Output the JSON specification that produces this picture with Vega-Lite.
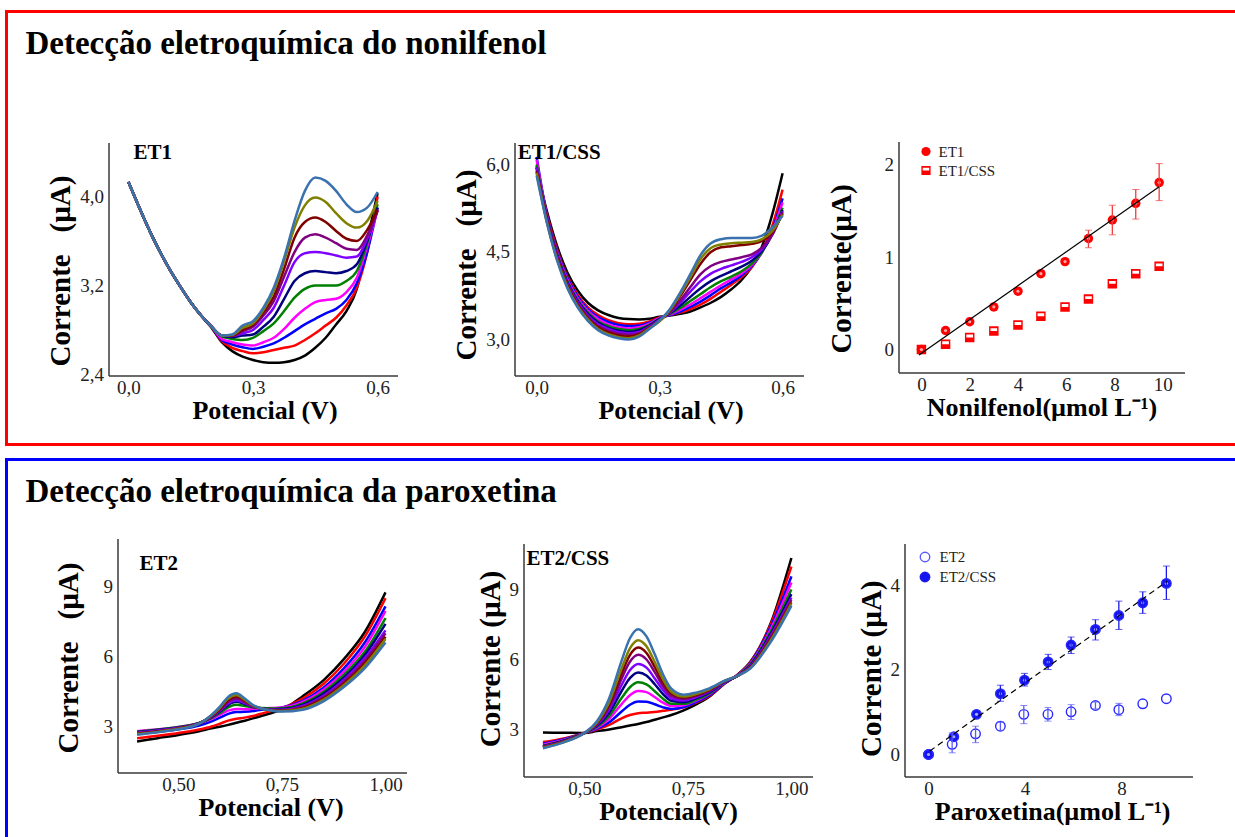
{
  "$schema": "https://vega.github.io/schema/vega-lite/v6.json",
  "background": "white",
  "padding": {"left": 4.5, "top": 9.5, "right": 0, "bottom": 0},
  "autosize": {"type": "pad"},
  "config": {
    "view": {"stroke": null},
    "font": "Liberation Serif",
    "axis": {"ticks": false, "grid": false, "domainColor": "#3a3a3a", "domainWidth": 1.5, "labelFont": "Liberation Serif", "labelFontSize": 19, "labelColor": "#222222", "labelPadding": 5, "labelFlush": false, "labelOverlap": false, "titleFont": "Liberation Serif", "titleFontWeight": "bold", "titleColor": "#000000"},
    "axisX": {"titleFontSize": 26, "titlePadding": 0, "labelPadding": 3},
    "axisY": {"titleFontSize": 29, "titlePadding": 4},
    "title": {"anchor": "start", "frame": "group", "offset": 0, "baseline": "alphabetic", "font": "Liberation Serif", "fontWeight": "bold", "color": "#000000"},
    "text": {"font": "Liberation Serif", "fontWeight": "bold", "fontSize": 21, "align": "left", "baseline": "alphabetic", "color": "#000000"}
  },
  "resolve": {"scale": {"shape": "independent", "fill": "independent", "color": "independent"}, "legend": {"shape": "independent", "fill": "independent"}},
  "datasets": {
    "l1": [
      {"k":0,"v":0,"i":4.13},{"k":0,"v":0.025,"i":3.91},{"k":0,"v":0.05,"i":3.7},{"k":0,"v":0.075,"i":3.51},{"k":0,"v":0.1,"i":3.34},{"k":0,"v":0.125,"i":3.19},{"k":0,"v":0.15,"i":3.05},{"k":0,"v":0.175,"i":2.93},{"k":0,"v":0.2,"i":2.82},{"k":0,"v":0.225,"i":2.69},{"k":0,"v":0.25,"i":2.61},{"k":0,"v":0.275,"i":2.56},{"k":0,"v":0.3,"i":2.53},{"k":0,"v":0.325,"i":2.51},{"k":0,"v":0.35,"i":2.505},{"k":0,"v":0.375,"i":2.51},{"k":0,"v":0.4,"i":2.53},{"k":0,"v":0.425,"i":2.57},{"k":0,"v":0.45,"i":2.64},{"k":0,"v":0.475,"i":2.73},{"k":0,"v":0.5,"i":2.85},{"k":0,"v":0.525,"i":2.97},{"k":0,"v":0.55,"i":3.17},{"k":0,"v":0.575,"i":3.6},{"k":0,"v":0.6,"i":4.03},
      {"k":1,"v":0,"i":4.13},{"k":1,"v":0.025,"i":3.91},{"k":1,"v":0.05,"i":3.7},{"k":1,"v":0.075,"i":3.51},{"k":1,"v":0.1,"i":3.34},{"k":1,"v":0.125,"i":3.19},{"k":1,"v":0.15,"i":3.05},{"k":1,"v":0.175,"i":2.93},{"k":1,"v":0.2,"i":2.83},{"k":1,"v":0.225,"i":2.7},{"k":1,"v":0.25,"i":2.64},{"k":1,"v":0.275,"i":2.61},{"k":1,"v":0.3,"i":2.59},{"k":1,"v":0.325,"i":2.6},{"k":1,"v":0.35,"i":2.62},{"k":1,"v":0.375,"i":2.64},{"k":1,"v":0.4,"i":2.66},{"k":1,"v":0.425,"i":2.71},{"k":1,"v":0.45,"i":2.77},{"k":1,"v":0.475,"i":2.84},{"k":1,"v":0.5,"i":2.91},{"k":1,"v":0.525,"i":3.02},{"k":1,"v":0.55,"i":3.18},{"k":1,"v":0.575,"i":3.5},{"k":1,"v":0.6,"i":4.0},
      {"k":2,"v":0,"i":4.13},{"k":2,"v":0.025,"i":3.91},{"k":2,"v":0.05,"i":3.7},{"k":2,"v":0.075,"i":3.51},{"k":2,"v":0.1,"i":3.34},{"k":2,"v":0.125,"i":3.19},{"k":2,"v":0.15,"i":3.05},{"k":2,"v":0.175,"i":2.93},{"k":2,"v":0.2,"i":2.83},{"k":2,"v":0.225,"i":2.71},{"k":2,"v":0.25,"i":2.67},{"k":2,"v":0.275,"i":2.645},{"k":2,"v":0.3,"i":2.63},{"k":2,"v":0.325,"i":2.65},{"k":2,"v":0.35,"i":2.68},{"k":2,"v":0.375,"i":2.73},{"k":2,"v":0.4,"i":2.79},{"k":2,"v":0.425,"i":2.85},{"k":2,"v":0.45,"i":2.9},{"k":2,"v":0.475,"i":2.95},{"k":2,"v":0.5,"i":2.99},{"k":2,"v":0.525,"i":3.07},{"k":2,"v":0.55,"i":3.22},{"k":2,"v":0.575,"i":3.5},{"k":2,"v":0.6,"i":3.9},
      {"k":3,"v":0,"i":4.13},{"k":3,"v":0.025,"i":3.91},{"k":3,"v":0.05,"i":3.7},{"k":3,"v":0.075,"i":3.51},{"k":3,"v":0.1,"i":3.34},{"k":3,"v":0.125,"i":3.19},{"k":3,"v":0.15,"i":3.05},{"k":3,"v":0.175,"i":2.93},{"k":3,"v":0.2,"i":2.83},{"k":3,"v":0.225,"i":2.72},{"k":3,"v":0.25,"i":2.69},{"k":3,"v":0.275,"i":2.67},{"k":3,"v":0.3,"i":2.66},{"k":3,"v":0.325,"i":2.69},{"k":3,"v":0.35,"i":2.73},{"k":3,"v":0.375,"i":2.81},{"k":3,"v":0.4,"i":2.91},{"k":3,"v":0.425,"i":2.99},{"k":3,"v":0.45,"i":3.05},{"k":3,"v":0.475,"i":3.07},{"k":3,"v":0.5,"i":3.08},{"k":3,"v":0.525,"i":3.14},{"k":3,"v":0.55,"i":3.27},{"k":3,"v":0.575,"i":3.55},{"k":3,"v":0.6,"i":3.88},
      {"k":4,"v":0,"i":4.13},{"k":4,"v":0.025,"i":3.91},{"k":4,"v":0.05,"i":3.7},{"k":4,"v":0.075,"i":3.51},{"k":4,"v":0.1,"i":3.34},{"k":4,"v":0.125,"i":3.19},{"k":4,"v":0.15,"i":3.05},{"k":4,"v":0.175,"i":2.93},{"k":4,"v":0.2,"i":2.83},{"k":4,"v":0.225,"i":2.74},{"k":4,"v":0.25,"i":2.72},{"k":4,"v":0.275,"i":2.71},{"k":4,"v":0.3,"i":2.73},{"k":4,"v":0.325,"i":2.79},{"k":4,"v":0.35,"i":2.86},{"k":4,"v":0.375,"i":2.97},{"k":4,"v":0.4,"i":3.09},{"k":4,"v":0.425,"i":3.17},{"k":4,"v":0.45,"i":3.2},{"k":4,"v":0.475,"i":3.2},{"k":4,"v":0.5,"i":3.2},{"k":4,"v":0.525,"i":3.24},{"k":4,"v":0.55,"i":3.33},{"k":4,"v":0.575,"i":3.58},{"k":4,"v":0.6,"i":3.93},
      {"k":5,"v":0,"i":4.13},{"k":5,"v":0.025,"i":3.91},{"k":5,"v":0.05,"i":3.7},{"k":5,"v":0.075,"i":3.51},{"k":5,"v":0.1,"i":3.34},{"k":5,"v":0.125,"i":3.19},{"k":5,"v":0.15,"i":3.05},{"k":5,"v":0.175,"i":2.93},{"k":5,"v":0.2,"i":2.83},{"k":5,"v":0.225,"i":2.75},{"k":5,"v":0.25,"i":2.735},{"k":5,"v":0.275,"i":2.75},{"k":5,"v":0.3,"i":2.76},{"k":5,"v":0.325,"i":2.83},{"k":5,"v":0.35,"i":2.92},{"k":5,"v":0.375,"i":3.08},{"k":5,"v":0.4,"i":3.24},{"k":5,"v":0.425,"i":3.31},{"k":5,"v":0.45,"i":3.33},{"k":5,"v":0.475,"i":3.32},{"k":5,"v":0.5,"i":3.31},{"k":5,"v":0.525,"i":3.33},{"k":5,"v":0.55,"i":3.39},{"k":5,"v":0.575,"i":3.6},{"k":5,"v":0.6,"i":3.9},
      {"k":6,"v":0,"i":4.13},{"k":6,"v":0.025,"i":3.91},{"k":6,"v":0.05,"i":3.7},{"k":6,"v":0.075,"i":3.51},{"k":6,"v":0.1,"i":3.34},{"k":6,"v":0.125,"i":3.19},{"k":6,"v":0.15,"i":3.05},{"k":6,"v":0.175,"i":2.93},{"k":6,"v":0.2,"i":2.83},{"k":6,"v":0.225,"i":2.75},{"k":6,"v":0.25,"i":2.745},{"k":6,"v":0.275,"i":2.77},{"k":6,"v":0.3,"i":2.8},{"k":6,"v":0.325,"i":2.89},{"k":6,"v":0.35,"i":3.0},{"k":6,"v":0.375,"i":3.2},{"k":6,"v":0.4,"i":3.41},{"k":6,"v":0.425,"i":3.49},{"k":6,"v":0.45,"i":3.5},{"k":6,"v":0.475,"i":3.49},{"k":6,"v":0.5,"i":3.47},{"k":6,"v":0.525,"i":3.45},{"k":6,"v":0.55,"i":3.46},{"k":6,"v":0.575,"i":3.62},{"k":6,"v":0.6,"i":3.88},
      {"k":7,"v":0,"i":4.13},{"k":7,"v":0.025,"i":3.91},{"k":7,"v":0.05,"i":3.7},{"k":7,"v":0.075,"i":3.51},{"k":7,"v":0.1,"i":3.34},{"k":7,"v":0.125,"i":3.19},{"k":7,"v":0.15,"i":3.05},{"k":7,"v":0.175,"i":2.93},{"k":7,"v":0.2,"i":2.83},{"k":7,"v":0.225,"i":2.75},{"k":7,"v":0.25,"i":2.75},{"k":7,"v":0.275,"i":2.79},{"k":7,"v":0.3,"i":2.83},{"k":7,"v":0.325,"i":2.93},{"k":7,"v":0.35,"i":3.06},{"k":7,"v":0.375,"i":3.28},{"k":7,"v":0.4,"i":3.5},{"k":7,"v":0.425,"i":3.63},{"k":7,"v":0.45,"i":3.66},{"k":7,"v":0.475,"i":3.63},{"k":7,"v":0.5,"i":3.58},{"k":7,"v":0.525,"i":3.53},{"k":7,"v":0.55,"i":3.52},{"k":7,"v":0.575,"i":3.65},{"k":7,"v":0.6,"i":3.87},
      {"k":8,"v":0,"i":4.13},{"k":8,"v":0.025,"i":3.91},{"k":8,"v":0.05,"i":3.7},{"k":8,"v":0.075,"i":3.51},{"k":8,"v":0.1,"i":3.34},{"k":8,"v":0.125,"i":3.19},{"k":8,"v":0.15,"i":3.05},{"k":8,"v":0.175,"i":2.93},{"k":8,"v":0.2,"i":2.83},{"k":8,"v":0.225,"i":2.75},{"k":8,"v":0.25,"i":2.75},{"k":8,"v":0.275,"i":2.8},{"k":8,"v":0.3,"i":2.85},{"k":8,"v":0.325,"i":2.96},{"k":8,"v":0.35,"i":3.1},{"k":8,"v":0.375,"i":3.35},{"k":8,"v":0.4,"i":3.63},{"k":8,"v":0.425,"i":3.77},{"k":8,"v":0.45,"i":3.81},{"k":8,"v":0.475,"i":3.77},{"k":8,"v":0.5,"i":3.69},{"k":8,"v":0.525,"i":3.62},{"k":8,"v":0.55,"i":3.6},{"k":8,"v":0.575,"i":3.7},{"k":8,"v":0.6,"i":3.88},
      {"k":9,"v":0,"i":4.13},{"k":9,"v":0.025,"i":3.91},{"k":9,"v":0.05,"i":3.7},{"k":9,"v":0.075,"i":3.51},{"k":9,"v":0.1,"i":3.34},{"k":9,"v":0.125,"i":3.19},{"k":9,"v":0.15,"i":3.05},{"k":9,"v":0.175,"i":2.93},{"k":9,"v":0.2,"i":2.83},{"k":9,"v":0.225,"i":2.75},{"k":9,"v":0.25,"i":2.755},{"k":9,"v":0.275,"i":2.82},{"k":9,"v":0.3,"i":2.86},{"k":9,"v":0.325,"i":2.98},{"k":9,"v":0.35,"i":3.15},{"k":9,"v":0.375,"i":3.42},{"k":9,"v":0.4,"i":3.72},{"k":9,"v":0.425,"i":3.92},{"k":9,"v":0.45,"i":3.99},{"k":9,"v":0.475,"i":3.95},{"k":9,"v":0.5,"i":3.85},{"k":9,"v":0.525,"i":3.76},{"k":9,"v":0.55,"i":3.72},{"k":9,"v":0.575,"i":3.78},{"k":9,"v":0.6,"i":3.96},
      {"k":10,"v":0,"i":4.13},{"k":10,"v":0.025,"i":3.91},{"k":10,"v":0.05,"i":3.7},{"k":10,"v":0.075,"i":3.51},{"k":10,"v":0.1,"i":3.34},{"k":10,"v":0.125,"i":3.19},{"k":10,"v":0.15,"i":3.05},{"k":10,"v":0.175,"i":2.93},{"k":10,"v":0.2,"i":2.83},{"k":10,"v":0.225,"i":2.75},{"k":10,"v":0.25,"i":2.76},{"k":10,"v":0.275,"i":2.84},{"k":10,"v":0.3,"i":2.88},{"k":10,"v":0.325,"i":3.0},{"k":10,"v":0.35,"i":3.18},{"k":10,"v":0.375,"i":3.45},{"k":10,"v":0.4,"i":3.78},{"k":10,"v":0.425,"i":4.05},{"k":10,"v":0.45,"i":4.17},{"k":10,"v":0.475,"i":4.14},{"k":10,"v":0.5,"i":4.05},{"k":10,"v":0.525,"i":3.93},{"k":10,"v":0.55,"i":3.86},{"k":10,"v":0.575,"i":3.9},{"k":10,"v":0.6,"i":4.04}
    ],
    "l2": [
      {"k":0,"v":0,"i":5.95},{"k":0,"v":0.025,"i":5.2},{"k":0,"v":0.05,"i":4.6},{"k":0,"v":0.075,"i":4.15},{"k":0,"v":0.1,"i":3.84},{"k":0,"v":0.125,"i":3.63},{"k":0,"v":0.15,"i":3.5},{"k":0,"v":0.175,"i":3.42},{"k":0,"v":0.2,"i":3.37},{"k":0,"v":0.225,"i":3.35},{"k":0,"v":0.25,"i":3.345},{"k":0,"v":0.275,"i":3.355},{"k":0,"v":0.3,"i":3.39},{"k":0,"v":0.325,"i":3.41},{"k":0,"v":0.35,"i":3.44},{"k":0,"v":0.375,"i":3.48},{"k":0,"v":0.4,"i":3.55},{"k":0,"v":0.425,"i":3.63},{"k":0,"v":0.45,"i":3.73},{"k":0,"v":0.475,"i":3.86},{"k":0,"v":0.5,"i":4.02},{"k":0,"v":0.525,"i":4.25},{"k":0,"v":0.55,"i":4.6},{"k":0,"v":0.575,"i":5.15},{"k":0,"v":0.6,"i":5.85},
      {"k":1,"v":0,"i":5.98},{"k":1,"v":0.025,"i":5.15},{"k":1,"v":0.05,"i":4.54},{"k":1,"v":0.075,"i":4.08},{"k":1,"v":0.1,"i":3.77},{"k":1,"v":0.125,"i":3.55},{"k":1,"v":0.15,"i":3.42},{"k":1,"v":0.175,"i":3.33},{"k":1,"v":0.2,"i":3.28},{"k":1,"v":0.225,"i":3.26},{"k":1,"v":0.25,"i":3.27},{"k":1,"v":0.275,"i":3.31},{"k":1,"v":0.3,"i":3.38},{"k":1,"v":0.325,"i":3.42},{"k":1,"v":0.35,"i":3.46},{"k":1,"v":0.375,"i":3.52},{"k":1,"v":0.4,"i":3.6},{"k":1,"v":0.425,"i":3.7},{"k":1,"v":0.45,"i":3.82},{"k":1,"v":0.475,"i":3.94},{"k":1,"v":0.5,"i":4.07},{"k":1,"v":0.525,"i":4.24},{"k":1,"v":0.55,"i":4.52},{"k":1,"v":0.575,"i":4.95},{"k":1,"v":0.6,"i":5.57},
      {"k":2,"v":0,"i":6.13},{"k":2,"v":0.025,"i":5.13},{"k":2,"v":0.05,"i":4.51},{"k":2,"v":0.075,"i":4.06},{"k":2,"v":0.1,"i":3.74},{"k":2,"v":0.125,"i":3.52},{"k":2,"v":0.15,"i":3.38},{"k":2,"v":0.175,"i":3.3},{"k":2,"v":0.2,"i":3.25},{"k":2,"v":0.225,"i":3.23},{"k":2,"v":0.25,"i":3.24},{"k":2,"v":0.275,"i":3.29},{"k":2,"v":0.3,"i":3.37},{"k":2,"v":0.325,"i":3.42},{"k":2,"v":0.35,"i":3.48},{"k":2,"v":0.375,"i":3.56},{"k":2,"v":0.4,"i":3.65},{"k":2,"v":0.425,"i":3.76},{"k":2,"v":0.45,"i":3.88},{"k":2,"v":0.475,"i":3.98},{"k":2,"v":0.5,"i":4.1},{"k":2,"v":0.525,"i":4.26},{"k":2,"v":0.55,"i":4.5},{"k":2,"v":0.575,"i":4.88},{"k":2,"v":0.6,"i":5.42},
      {"k":3,"v":0,"i":6.08},{"k":3,"v":0.025,"i":5.11},{"k":3,"v":0.05,"i":4.49},{"k":3,"v":0.075,"i":4.03},{"k":3,"v":0.1,"i":3.71},{"k":3,"v":0.125,"i":3.49},{"k":3,"v":0.15,"i":3.35},{"k":3,"v":0.175,"i":3.26},{"k":3,"v":0.2,"i":3.21},{"k":3,"v":0.225,"i":3.19},{"k":3,"v":0.25,"i":3.21},{"k":3,"v":0.275,"i":3.27},{"k":3,"v":0.3,"i":3.37},{"k":3,"v":0.325,"i":3.43},{"k":3,"v":0.35,"i":3.51},{"k":3,"v":0.375,"i":3.6},{"k":3,"v":0.4,"i":3.71},{"k":3,"v":0.425,"i":3.82},{"k":3,"v":0.45,"i":3.93},{"k":3,"v":0.475,"i":4.03},{"k":3,"v":0.5,"i":4.13},{"k":3,"v":0.525,"i":4.28},{"k":3,"v":0.55,"i":4.5},{"k":3,"v":0.575,"i":4.85},{"k":3,"v":0.6,"i":5.35},
      {"k":4,"v":0,"i":6.0},{"k":4,"v":0.025,"i":5.09},{"k":4,"v":0.05,"i":4.46},{"k":4,"v":0.075,"i":4.0},{"k":4,"v":0.1,"i":3.68},{"k":4,"v":0.125,"i":3.46},{"k":4,"v":0.15,"i":3.31},{"k":4,"v":0.175,"i":3.23},{"k":4,"v":0.2,"i":3.18},{"k":4,"v":0.225,"i":3.16},{"k":4,"v":0.25,"i":3.18},{"k":4,"v":0.275,"i":3.25},{"k":4,"v":0.3,"i":3.36},{"k":4,"v":0.325,"i":3.44},{"k":4,"v":0.35,"i":3.54},{"k":4,"v":0.375,"i":3.66},{"k":4,"v":0.4,"i":3.78},{"k":4,"v":0.425,"i":3.9},{"k":4,"v":0.45,"i":4.0},{"k":4,"v":0.475,"i":4.08},{"k":4,"v":0.5,"i":4.17},{"k":4,"v":0.525,"i":4.3},{"k":4,"v":0.55,"i":4.5},{"k":4,"v":0.575,"i":4.82},{"k":4,"v":0.6,"i":5.26},
      {"k":5,"v":0,"i":5.95},{"k":5,"v":0.025,"i":5.08},{"k":5,"v":0.05,"i":4.45},{"k":5,"v":0.075,"i":3.98},{"k":5,"v":0.1,"i":3.66},{"k":5,"v":0.125,"i":3.44},{"k":5,"v":0.15,"i":3.29},{"k":5,"v":0.175,"i":3.2},{"k":5,"v":0.2,"i":3.15},{"k":5,"v":0.225,"i":3.13},{"k":5,"v":0.25,"i":3.16},{"k":5,"v":0.275,"i":3.24},{"k":5,"v":0.3,"i":3.35},{"k":5,"v":0.325,"i":3.45},{"k":5,"v":0.35,"i":3.58},{"k":5,"v":0.375,"i":3.73},{"k":5,"v":0.4,"i":3.88},{"k":5,"v":0.425,"i":4.0},{"k":5,"v":0.45,"i":4.09},{"k":5,"v":0.475,"i":4.17},{"k":5,"v":0.5,"i":4.25},{"k":5,"v":0.525,"i":4.35},{"k":5,"v":0.55,"i":4.52},{"k":5,"v":0.575,"i":4.8},{"k":5,"v":0.6,"i":5.22},
      {"k":6,"v":0,"i":5.95},{"k":6,"v":0.025,"i":5.06},{"k":6,"v":0.05,"i":4.43},{"k":6,"v":0.075,"i":3.96},{"k":6,"v":0.1,"i":3.64},{"k":6,"v":0.125,"i":3.41},{"k":6,"v":0.15,"i":3.26},{"k":6,"v":0.175,"i":3.18},{"k":6,"v":0.2,"i":3.125},{"k":6,"v":0.225,"i":3.105},{"k":6,"v":0.25,"i":3.13},{"k":6,"v":0.275,"i":3.22},{"k":6,"v":0.3,"i":3.34},{"k":6,"v":0.325,"i":3.46},{"k":6,"v":0.35,"i":3.63},{"k":6,"v":0.375,"i":3.82},{"k":6,"v":0.4,"i":4.0},{"k":6,"v":0.425,"i":4.13},{"k":6,"v":0.45,"i":4.21},{"k":6,"v":0.475,"i":4.27},{"k":6,"v":0.5,"i":4.33},{"k":6,"v":0.525,"i":4.41},{"k":6,"v":0.55,"i":4.55},{"k":6,"v":0.575,"i":4.8},{"k":6,"v":0.6,"i":5.2},
      {"k":7,"v":0,"i":5.9},{"k":7,"v":0.025,"i":5.04},{"k":7,"v":0.05,"i":4.4},{"k":7,"v":0.075,"i":3.94},{"k":7,"v":0.1,"i":3.61},{"k":7,"v":0.125,"i":3.39},{"k":7,"v":0.15,"i":3.23},{"k":7,"v":0.175,"i":3.15},{"k":7,"v":0.2,"i":3.1},{"k":7,"v":0.225,"i":3.08},{"k":7,"v":0.25,"i":3.11},{"k":7,"v":0.275,"i":3.21},{"k":7,"v":0.3,"i":3.33},{"k":7,"v":0.325,"i":3.47},{"k":7,"v":0.35,"i":3.67},{"k":7,"v":0.375,"i":3.9},{"k":7,"v":0.4,"i":4.12},{"k":7,"v":0.425,"i":4.26},{"k":7,"v":0.45,"i":4.33},{"k":7,"v":0.475,"i":4.37},{"k":7,"v":0.5,"i":4.41},{"k":7,"v":0.525,"i":4.46},{"k":7,"v":0.55,"i":4.58},{"k":7,"v":0.575,"i":4.8},{"k":7,"v":0.6,"i":5.18},
      {"k":8,"v":0,"i":5.88},{"k":8,"v":0.025,"i":5.03},{"k":8,"v":0.05,"i":4.39},{"k":8,"v":0.075,"i":3.92},{"k":8,"v":0.1,"i":3.59},{"k":8,"v":0.125,"i":3.36},{"k":8,"v":0.15,"i":3.21},{"k":8,"v":0.175,"i":3.12},{"k":8,"v":0.2,"i":3.07},{"k":8,"v":0.225,"i":3.05},{"k":8,"v":0.25,"i":3.09},{"k":8,"v":0.275,"i":3.2},{"k":8,"v":0.3,"i":3.32},{"k":8,"v":0.325,"i":3.49},{"k":8,"v":0.35,"i":3.74},{"k":8,"v":0.375,"i":4.02},{"k":8,"v":0.4,"i":4.3},{"k":8,"v":0.425,"i":4.5},{"k":8,"v":0.45,"i":4.58},{"k":8,"v":0.475,"i":4.6},{"k":8,"v":0.5,"i":4.62},{"k":8,"v":0.525,"i":4.64},{"k":8,"v":0.55,"i":4.69},{"k":8,"v":0.575,"i":4.84},{"k":8,"v":0.6,"i":5.16},
      {"k":9,"v":0,"i":5.86},{"k":9,"v":0.025,"i":5.01},{"k":9,"v":0.05,"i":4.37},{"k":9,"v":0.075,"i":3.9},{"k":9,"v":0.1,"i":3.57},{"k":9,"v":0.125,"i":3.34},{"k":9,"v":0.15,"i":3.18},{"k":9,"v":0.175,"i":3.09},{"k":9,"v":0.2,"i":3.04},{"k":9,"v":0.225,"i":3.02},{"k":9,"v":0.25,"i":3.07},{"k":9,"v":0.275,"i":3.19},{"k":9,"v":0.3,"i":3.31},{"k":9,"v":0.325,"i":3.5},{"k":9,"v":0.35,"i":3.77},{"k":9,"v":0.375,"i":4.07},{"k":9,"v":0.4,"i":4.38},{"k":9,"v":0.425,"i":4.57},{"k":9,"v":0.45,"i":4.63},{"k":9,"v":0.475,"i":4.65},{"k":9,"v":0.5,"i":4.66},{"k":9,"v":0.525,"i":4.67},{"k":9,"v":0.55,"i":4.72},{"k":9,"v":0.575,"i":4.86},{"k":9,"v":0.6,"i":5.14},
      {"k":10,"v":0,"i":5.81},{"k":10,"v":0.025,"i":5.0},{"k":10,"v":0.05,"i":4.35},{"k":10,"v":0.075,"i":3.88},{"k":10,"v":0.1,"i":3.55},{"k":10,"v":0.125,"i":3.32},{"k":10,"v":0.15,"i":3.16},{"k":10,"v":0.175,"i":3.07},{"k":10,"v":0.2,"i":3.02},{"k":10,"v":0.225,"i":3.0},{"k":10,"v":0.25,"i":3.05},{"k":10,"v":0.275,"i":3.18},{"k":10,"v":0.3,"i":3.33},{"k":10,"v":0.325,"i":3.52},{"k":10,"v":0.35,"i":3.8},{"k":10,"v":0.375,"i":4.12},{"k":10,"v":0.4,"i":4.45},{"k":10,"v":0.425,"i":4.65},{"k":10,"v":0.45,"i":4.72},{"k":10,"v":0.475,"i":4.74},{"k":10,"v":0.5,"i":4.74},{"k":10,"v":0.525,"i":4.74},{"k":10,"v":0.55,"i":4.78},{"k":10,"v":0.575,"i":4.92},{"k":10,"v":0.6,"i":5.12}
    ],
    "l4": [
      {"k":0,"v":0.4,"i":2.36},{"k":0,"v":0.45,"i":2.5},{"k":0,"v":0.5,"i":2.64},{"k":0,"v":0.55,"i":2.8},{"k":0,"v":0.58,"i":2.92},{"k":0,"v":0.6,"i":2.99},{"k":0,"v":0.62,"i":3.07},{"k":0,"v":0.64,"i":3.16},{"k":0,"v":0.66,"i":3.25},{"k":0,"v":0.68,"i":3.35},{"k":0,"v":0.7,"i":3.45},{"k":0,"v":0.725,"i":3.58},{"k":0,"v":0.75,"i":3.72},{"k":0,"v":0.8,"i":4.3},{"k":0,"v":0.85,"i":4.98},{"k":0,"v":0.9,"i":5.9},{"k":0,"v":0.95,"i":7.05},{"k":0,"v":1.0,"i":8.75},
      {"k":1,"v":0.4,"i":2.5},{"k":1,"v":0.45,"i":2.6},{"k":1,"v":0.5,"i":2.72},{"k":1,"v":0.55,"i":2.87},{"k":1,"v":0.58,"i":3.0},{"k":1,"v":0.6,"i":3.12},{"k":1,"v":0.62,"i":3.25},{"k":1,"v":0.64,"i":3.33},{"k":1,"v":0.66,"i":3.38},{"k":1,"v":0.68,"i":3.45},{"k":1,"v":0.7,"i":3.55},{"k":1,"v":0.725,"i":3.67},{"k":1,"v":0.75,"i":3.8},{"k":1,"v":0.8,"i":4.2},{"k":1,"v":0.85,"i":4.82},{"k":1,"v":0.9,"i":5.7},{"k":1,"v":0.95,"i":6.85},{"k":1,"v":1.0,"i":8.5},
      {"k":2,"v":0.4,"i":2.7},{"k":2,"v":0.45,"i":2.78},{"k":2,"v":0.5,"i":2.88},{"k":2,"v":0.55,"i":3.04},{"k":2,"v":0.58,"i":3.22},{"k":2,"v":0.6,"i":3.38},{"k":2,"v":0.62,"i":3.54},{"k":2,"v":0.64,"i":3.62},{"k":2,"v":0.66,"i":3.63},{"k":2,"v":0.68,"i":3.66},{"k":2,"v":0.7,"i":3.72},{"k":2,"v":0.725,"i":3.77},{"k":2,"v":0.75,"i":3.82},{"k":2,"v":0.8,"i":4.1},{"k":2,"v":0.85,"i":4.66},{"k":2,"v":0.9,"i":5.5},{"k":2,"v":0.95,"i":6.6},{"k":2,"v":1.0,"i":8.15},
      {"k":3,"v":0.4,"i":2.8},{"k":3,"v":0.45,"i":2.88},{"k":3,"v":0.5,"i":2.98},{"k":3,"v":0.55,"i":3.14},{"k":3,"v":0.58,"i":3.33},{"k":3,"v":0.6,"i":3.5},{"k":3,"v":0.62,"i":3.68},{"k":3,"v":0.64,"i":3.75},{"k":3,"v":0.66,"i":3.74},{"k":3,"v":0.68,"i":3.76},{"k":3,"v":0.7,"i":3.78},{"k":3,"v":0.725,"i":3.79},{"k":3,"v":0.75,"i":3.81},{"k":3,"v":0.8,"i":4.05},{"k":3,"v":0.85,"i":4.57},{"k":3,"v":0.9,"i":5.35},{"k":3,"v":0.95,"i":6.4},{"k":3,"v":1.0,"i":7.95},
      {"k":4,"v":0.4,"i":2.78},{"k":4,"v":0.45,"i":2.87},{"k":4,"v":0.5,"i":2.98},{"k":4,"v":0.55,"i":3.15},{"k":4,"v":0.58,"i":3.37},{"k":4,"v":0.6,"i":3.58},{"k":4,"v":0.62,"i":3.82},{"k":4,"v":0.64,"i":3.93},{"k":4,"v":0.66,"i":3.88},{"k":4,"v":0.68,"i":3.82},{"k":4,"v":0.7,"i":3.79},{"k":4,"v":0.725,"i":3.77},{"k":4,"v":0.75,"i":3.78},{"k":4,"v":0.8,"i":3.99},{"k":4,"v":0.85,"i":4.48},{"k":4,"v":0.9,"i":5.22},{"k":4,"v":0.95,"i":6.2},{"k":4,"v":1.0,"i":7.65},
      {"k":5,"v":0.4,"i":2.76},{"k":5,"v":0.45,"i":2.85},{"k":5,"v":0.5,"i":2.96},{"k":5,"v":0.55,"i":3.14},{"k":5,"v":0.58,"i":3.4},{"k":5,"v":0.6,"i":3.64},{"k":5,"v":0.62,"i":3.93},{"k":5,"v":0.64,"i":4.06},{"k":5,"v":0.66,"i":3.96},{"k":5,"v":0.68,"i":3.85},{"k":5,"v":0.7,"i":3.78},{"k":5,"v":0.725,"i":3.74},{"k":5,"v":0.75,"i":3.75},{"k":5,"v":0.8,"i":3.93},{"k":5,"v":0.85,"i":4.4},{"k":5,"v":0.9,"i":5.1},{"k":5,"v":0.95,"i":6.06},{"k":5,"v":1.0,"i":7.4},
      {"k":6,"v":0.4,"i":2.74},{"k":6,"v":0.45,"i":2.83},{"k":6,"v":0.5,"i":2.95},{"k":6,"v":0.55,"i":3.14},{"k":6,"v":0.58,"i":3.42},{"k":6,"v":0.6,"i":3.68},{"k":6,"v":0.62,"i":3.99},{"k":6,"v":0.64,"i":4.13},{"k":6,"v":0.66,"i":4.0},{"k":6,"v":0.68,"i":3.86},{"k":6,"v":0.7,"i":3.77},{"k":6,"v":0.725,"i":3.72},{"k":6,"v":0.75,"i":3.72},{"k":6,"v":0.8,"i":3.88},{"k":6,"v":0.85,"i":4.32},{"k":6,"v":0.9,"i":5.01},{"k":6,"v":0.95,"i":5.93},{"k":6,"v":1.0,"i":7.12},
      {"k":7,"v":0.4,"i":2.72},{"k":7,"v":0.45,"i":2.81},{"k":7,"v":0.5,"i":2.93},{"k":7,"v":0.55,"i":3.13},{"k":7,"v":0.58,"i":3.44},{"k":7,"v":0.6,"i":3.72},{"k":7,"v":0.62,"i":4.06},{"k":7,"v":0.64,"i":4.2},{"k":7,"v":0.66,"i":4.05},{"k":7,"v":0.68,"i":3.87},{"k":7,"v":0.7,"i":3.77},{"k":7,"v":0.725,"i":3.71},{"k":7,"v":0.75,"i":3.7},{"k":7,"v":0.8,"i":3.84},{"k":7,"v":0.85,"i":4.26},{"k":7,"v":0.9,"i":4.93},{"k":7,"v":0.95,"i":5.82},{"k":7,"v":1.0,"i":7.0},
      {"k":8,"v":0.4,"i":2.7},{"k":8,"v":0.45,"i":2.79},{"k":8,"v":0.5,"i":2.92},{"k":8,"v":0.55,"i":3.13},{"k":8,"v":0.58,"i":3.46},{"k":8,"v":0.6,"i":3.76},{"k":8,"v":0.62,"i":4.13},{"k":8,"v":0.64,"i":4.28},{"k":8,"v":0.66,"i":4.1},{"k":8,"v":0.68,"i":3.88},{"k":8,"v":0.7,"i":3.77},{"k":8,"v":0.725,"i":3.7},{"k":8,"v":0.75,"i":3.68},{"k":8,"v":0.8,"i":3.8},{"k":8,"v":0.85,"i":4.2},{"k":8,"v":0.9,"i":4.85},{"k":8,"v":0.95,"i":5.72},{"k":8,"v":1.0,"i":6.85},
      {"k":9,"v":0.4,"i":2.68},{"k":9,"v":0.45,"i":2.77},{"k":9,"v":0.5,"i":2.9},{"k":9,"v":0.55,"i":3.12},{"k":9,"v":0.58,"i":3.48},{"k":9,"v":0.6,"i":3.8},{"k":9,"v":0.62,"i":4.2},{"k":9,"v":0.64,"i":4.35},{"k":9,"v":0.66,"i":4.15},{"k":9,"v":0.68,"i":3.9},{"k":9,"v":0.7,"i":3.77},{"k":9,"v":0.725,"i":3.69},{"k":9,"v":0.75,"i":3.66},{"k":9,"v":0.8,"i":3.76},{"k":9,"v":0.85,"i":4.14},{"k":9,"v":0.9,"i":4.78},{"k":9,"v":0.95,"i":5.62},{"k":9,"v":1.0,"i":6.75},
      {"k":10,"v":0.4,"i":2.65},{"k":10,"v":0.45,"i":2.75},{"k":10,"v":0.5,"i":2.88},{"k":10,"v":0.55,"i":3.12},{"k":10,"v":0.58,"i":3.5},{"k":10,"v":0.6,"i":3.85},{"k":10,"v":0.62,"i":4.27},{"k":10,"v":0.64,"i":4.42},{"k":10,"v":0.66,"i":4.2},{"k":10,"v":0.68,"i":3.92},{"k":10,"v":0.7,"i":3.77},{"k":10,"v":0.725,"i":3.68},{"k":10,"v":0.75,"i":3.64},{"k":10,"v":0.8,"i":3.72},{"k":10,"v":0.85,"i":4.08},{"k":10,"v":0.9,"i":4.7},{"k":10,"v":0.95,"i":5.5},{"k":10,"v":1.0,"i":6.6}
    ],
    "l5": [
      {"k":0,"v":0.4,"i":2.87},{"k":0,"v":0.45,"i":2.86},{"k":0,"v":0.5,"i":2.85},{"k":0,"v":0.53,"i":2.93},{"k":0,"v":0.56,"i":3.0},{"k":0,"v":0.59,"i":3.1},{"k":0,"v":0.61,"i":3.17},{"k":0,"v":0.63,"i":3.24},{"k":0,"v":0.65,"i":3.32},{"k":0,"v":0.67,"i":3.42},{"k":0,"v":0.69,"i":3.52},{"k":0,"v":0.71,"i":3.62},{"k":0,"v":0.74,"i":3.82},{"k":0,"v":0.77,"i":4.08},{"k":0,"v":0.8,"i":4.38},{"k":0,"v":0.84,"i":4.98},{"k":0,"v":0.87,"i":5.35},{"k":0,"v":0.9,"i":5.88},{"k":0,"v":0.95,"i":7.55},{"k":0,"v":1.0,"i":10.35},
      {"k":1,"v":0.4,"i":2.46},{"k":1,"v":0.45,"i":2.62},{"k":1,"v":0.5,"i":2.85},{"k":1,"v":0.53,"i":3.0},{"k":1,"v":0.56,"i":3.2},{"k":1,"v":0.59,"i":3.48},{"k":1,"v":0.61,"i":3.62},{"k":1,"v":0.63,"i":3.7},{"k":1,"v":0.65,"i":3.72},{"k":1,"v":0.67,"i":3.75},{"k":1,"v":0.69,"i":3.8},{"k":1,"v":0.71,"i":3.85},{"k":1,"v":0.74,"i":3.95},{"k":1,"v":0.77,"i":4.15},{"k":1,"v":0.8,"i":4.42},{"k":1,"v":0.84,"i":4.99},{"k":1,"v":0.87,"i":5.34},{"k":1,"v":0.9,"i":5.86},{"k":1,"v":0.95,"i":7.5},{"k":1,"v":1.0,"i":9.98},
      {"k":2,"v":0.4,"i":2.39},{"k":2,"v":0.45,"i":2.58},{"k":2,"v":0.5,"i":2.85},{"k":2,"v":0.53,"i":3.03},{"k":2,"v":0.56,"i":3.31},{"k":2,"v":0.59,"i":3.77},{"k":2,"v":0.61,"i":4.06},{"k":2,"v":0.63,"i":4.2},{"k":2,"v":0.65,"i":4.19},{"k":2,"v":0.67,"i":4.08},{"k":2,"v":0.69,"i":3.95},{"k":2,"v":0.71,"i":3.88},{"k":2,"v":0.74,"i":3.96},{"k":2,"v":0.77,"i":4.18},{"k":2,"v":0.8,"i":4.45},{"k":2,"v":0.84,"i":5.0},{"k":2,"v":0.87,"i":5.33},{"k":2,"v":0.9,"i":5.83},{"k":2,"v":0.95,"i":7.4},{"k":2,"v":1.0,"i":9.56},
      {"k":3,"v":0.4,"i":2.35},{"k":3,"v":0.45,"i":2.55},{"k":3,"v":0.5,"i":2.85},{"k":3,"v":0.53,"i":3.07},{"k":3,"v":0.56,"i":3.46},{"k":3,"v":0.59,"i":4.09},{"k":3,"v":0.61,"i":4.47},{"k":3,"v":0.63,"i":4.65},{"k":3,"v":0.65,"i":4.6},{"k":3,"v":0.67,"i":4.39},{"k":3,"v":0.69,"i":4.15},{"k":3,"v":0.71,"i":4.01},{"k":3,"v":0.74,"i":4.04},{"k":3,"v":0.77,"i":4.24},{"k":3,"v":0.8,"i":4.5},{"k":3,"v":0.84,"i":5.02},{"k":3,"v":0.87,"i":5.32},{"k":3,"v":0.9,"i":5.8},{"k":3,"v":0.95,"i":7.3},{"k":3,"v":1.0,"i":9.3},
      {"k":4,"v":0.4,"i":2.3},{"k":4,"v":0.45,"i":2.53},{"k":4,"v":0.5,"i":2.85},{"k":4,"v":0.53,"i":3.11},{"k":4,"v":0.56,"i":3.58},{"k":4,"v":0.59,"i":4.35},{"k":4,"v":0.61,"i":4.81},{"k":4,"v":0.63,"i":5.02},{"k":4,"v":0.65,"i":4.93},{"k":4,"v":0.67,"i":4.64},{"k":4,"v":0.69,"i":4.32},{"k":4,"v":0.71,"i":4.1},{"k":4,"v":0.74,"i":4.1},{"k":4,"v":0.77,"i":4.28},{"k":4,"v":0.8,"i":4.53},{"k":4,"v":0.84,"i":5.03},{"k":4,"v":0.87,"i":5.31},{"k":4,"v":0.9,"i":5.77},{"k":4,"v":0.95,"i":7.2},{"k":4,"v":1.0,"i":9.0},
      {"k":5,"v":0.4,"i":2.28},{"k":5,"v":0.45,"i":2.52},{"k":5,"v":0.5,"i":2.85},{"k":5,"v":0.53,"i":3.15},{"k":5,"v":0.56,"i":3.72},{"k":5,"v":0.59,"i":4.65},{"k":5,"v":0.61,"i":5.2},{"k":5,"v":0.63,"i":5.44},{"k":5,"v":0.65,"i":5.31},{"k":5,"v":0.67,"i":4.94},{"k":5,"v":0.69,"i":4.52},{"k":5,"v":0.71,"i":4.23},{"k":5,"v":0.74,"i":4.17},{"k":5,"v":0.77,"i":4.34},{"k":5,"v":0.8,"i":4.57},{"k":5,"v":0.84,"i":5.04},{"k":5,"v":0.87,"i":5.3},{"k":5,"v":0.9,"i":5.73},{"k":5,"v":0.95,"i":7.1},{"k":5,"v":1.0,"i":8.8},
      {"k":6,"v":0.4,"i":2.27},{"k":6,"v":0.45,"i":2.5},{"k":6,"v":0.5,"i":2.85},{"k":6,"v":0.53,"i":3.19},{"k":6,"v":0.56,"i":3.85},{"k":6,"v":0.59,"i":4.91},{"k":6,"v":0.61,"i":5.54},{"k":6,"v":0.63,"i":5.81},{"k":6,"v":0.65,"i":5.65},{"k":6,"v":0.67,"i":5.19},{"k":6,"v":0.69,"i":4.69},{"k":6,"v":0.71,"i":4.33},{"k":6,"v":0.74,"i":4.24},{"k":6,"v":0.77,"i":4.39},{"k":6,"v":0.8,"i":4.61},{"k":6,"v":0.84,"i":5.05},{"k":6,"v":0.87,"i":5.3},{"k":6,"v":0.9,"i":5.7},{"k":6,"v":0.95,"i":7.02},{"k":6,"v":1.0,"i":8.65},
      {"k":7,"v":0.4,"i":2.25},{"k":7,"v":0.45,"i":2.49},{"k":7,"v":0.5,"i":2.85},{"k":7,"v":0.53,"i":3.23},{"k":7,"v":0.56,"i":3.97},{"k":7,"v":0.59,"i":5.18},{"k":7,"v":0.61,"i":5.9},{"k":7,"v":0.63,"i":6.2},{"k":7,"v":0.65,"i":6.0},{"k":7,"v":0.67,"i":5.46},{"k":7,"v":0.69,"i":4.86},{"k":7,"v":0.71,"i":4.44},{"k":7,"v":0.74,"i":4.31},{"k":7,"v":0.77,"i":4.44},{"k":7,"v":0.8,"i":4.65},{"k":7,"v":0.84,"i":5.07},{"k":7,"v":0.87,"i":5.3},{"k":7,"v":0.9,"i":5.67},{"k":7,"v":0.95,"i":6.95},{"k":7,"v":1.0,"i":8.55},
      {"k":8,"v":0.4,"i":2.24},{"k":8,"v":0.45,"i":2.48},{"k":8,"v":0.5,"i":2.85},{"k":8,"v":0.53,"i":3.26},{"k":8,"v":0.56,"i":4.08},{"k":8,"v":0.59,"i":5.4},{"k":8,"v":0.61,"i":6.19},{"k":8,"v":0.63,"i":6.51},{"k":8,"v":0.65,"i":6.28},{"k":8,"v":0.67,"i":5.68},{"k":8,"v":0.69,"i":5.01},{"k":8,"v":0.71,"i":4.54},{"k":8,"v":0.74,"i":4.37},{"k":8,"v":0.77,"i":4.48},{"k":8,"v":0.8,"i":4.68},{"k":8,"v":0.84,"i":5.08},{"k":8,"v":0.87,"i":5.3},{"k":8,"v":0.9,"i":5.64},{"k":8,"v":0.95,"i":6.88},{"k":8,"v":1.0,"i":8.45},
      {"k":9,"v":0.4,"i":2.22},{"k":9,"v":0.45,"i":2.46},{"k":9,"v":0.5,"i":2.85},{"k":9,"v":0.53,"i":3.29},{"k":9,"v":0.56,"i":4.18},{"k":9,"v":0.59,"i":5.62},{"k":9,"v":0.61,"i":6.48},{"k":9,"v":0.63,"i":6.83},{"k":9,"v":0.65,"i":6.57},{"k":9,"v":0.67,"i":5.89},{"k":9,"v":0.69,"i":5.15},{"k":9,"v":0.71,"i":4.62},{"k":9,"v":0.74,"i":4.41},{"k":9,"v":0.77,"i":4.52},{"k":9,"v":0.8,"i":4.71},{"k":9,"v":0.84,"i":5.09},{"k":9,"v":0.87,"i":5.3},{"k":9,"v":0.9,"i":5.62},{"k":9,"v":0.95,"i":6.82},{"k":9,"v":1.0,"i":8.4},
      {"k":10,"v":0.4,"i":2.2},{"k":10,"v":0.45,"i":2.45},{"k":10,"v":0.5,"i":2.85},{"k":10,"v":0.53,"i":3.34},{"k":10,"v":0.56,"i":4.34},{"k":10,"v":0.59,"i":5.95},{"k":10,"v":0.61,"i":6.91},{"k":10,"v":0.63,"i":7.3},{"k":10,"v":0.65,"i":6.99},{"k":10,"v":0.67,"i":6.22},{"k":10,"v":0.69,"i":5.36},{"k":10,"v":0.71,"i":4.75},{"k":10,"v":0.74,"i":4.49},{"k":10,"v":0.77,"i":4.58},{"k":10,"v":0.8,"i":4.75},{"k":10,"v":0.84,"i":5.1},{"k":10,"v":0.87,"i":5.3},{"k":10,"v":0.9,"i":5.6},{"k":10,"v":0.95,"i":6.75},{"k":10,"v":1.0,"i":8.3}
    ],
    "p3": [
      {"s":"ET1","x":0,"y":0},{"s":"ET1","x":1,"y":0.205},{"s":"ET1","x":2,"y":0.3},{"s":"ET1","x":3,"y":0.46},{"s":"ET1","x":4,"y":0.63},{"s":"ET1","x":4.95,"y":0.82},{"s":"ET1","x":5.95,"y":0.95},{"s":"ET1","x":6.92,"y":1.2,"lo":1.1,"hi":1.29},{"s":"ET1","x":7.91,"y":1.4,"lo":1.24,"hi":1.56},{"s":"ET1","x":8.88,"y":1.58,"lo":1.41,"hi":1.73},{"s":"ET1","x":9.85,"y":1.805,"lo":1.61,"hi":2.01},
      {"s":"ET1/CSS","x":0,"y":0},{"s":"ET1/CSS","x":1,"y":0.057},{"s":"ET1/CSS","x":2,"y":0.13},{"s":"ET1/CSS","x":3,"y":0.2},{"s":"ET1/CSS","x":4,"y":0.265},{"s":"ET1/CSS","x":4.95,"y":0.36},{"s":"ET1/CSS","x":5.95,"y":0.46},{"s":"ET1/CSS","x":6.92,"y":0.545},{"s":"ET1/CSS","x":7.91,"y":0.71},{"s":"ET1/CSS","x":8.88,"y":0.82},{"s":"ET1/CSS","x":9.85,"y":0.9}
    ],
    "p6": [
      {"s":"ET2","x":0,"y":0},{"s":"ET2","x":0.98,"y":0.24,"lo":0.04,"hi":0.51},{"s":"ET2","x":1.95,"y":0.49,"lo":0.28,"hi":0.67},{"s":"ET2","x":2.98,"y":0.67,"lo":0.57,"hi":0.77},{"s":"ET2","x":3.95,"y":0.95,"lo":0.73,"hi":1.16},{"s":"ET2","x":4.95,"y":0.95,"lo":0.79,"hi":1.11},{"s":"ET2","x":5.91,"y":1.01,"lo":0.83,"hi":1.18},{"s":"ET2","x":6.92,"y":1.16,"lo":1.08,"hi":1.24},{"s":"ET2","x":7.89,"y":1.06,"lo":0.92,"hi":1.21},{"s":"ET2","x":8.88,"y":1.2},{"s":"ET2","x":9.86,"y":1.32},
      {"s":"ET2/CSS","x":0,"y":0},{"s":"ET2/CSS","x":1.05,"y":0.42},{"s":"ET2/CSS","x":1.99,"y":0.95},{"s":"ET2/CSS","x":2.98,"y":1.44,"lo":1.26,"hi":1.64},{"s":"ET2/CSS","x":3.98,"y":1.76,"lo":1.62,"hi":1.92},{"s":"ET2/CSS","x":4.96,"y":2.19,"lo":2.01,"hi":2.37},{"s":"ET2/CSS","x":5.91,"y":2.59,"lo":2.39,"hi":2.78},{"s":"ET2/CSS","x":6.92,"y":2.96,"lo":2.71,"hi":3.19},{"s":"ET2/CSS","x":7.89,"y":3.29,"lo":2.96,"hi":3.63},{"s":"ET2/CSS","x":8.88,"y":3.59,"lo":3.34,"hi":3.85},{"s":"ET2/CSS","x":9.86,"y":4.05,"lo":3.67,"hi":4.46}
    ],
    "f3": [{"x":-0.1,"y":-0.06},{"x":9.85,"y":1.76}],
    "f6": [{"x":0.05,"y":0.08},{"x":9.9,"y":4.1}]
  },
  "vconcat": [
    {
      "width": 1235, "height": 433,
      "view": {"stroke": "#ff0000", "strokeWidth": 3},
      "title": {"text": "Detecção eletroquímica do nonilfenol", "fontSize": 33, "dx": 19, "dy": 53},
      "resolve": {"scale": {"x": "independent", "y": "independent", "color": "independent", "shape": "independent"}},
      "layer": [
        {
          "layer": [
            {
              "data": {"name": "l1"},
              "mark": {"type": "line", "interpolate": "monotone", "strokeWidth": 2.5},
              "encoding": {
                "x": {"field": "v", "type": "quantitative", "scale": {"domain": [-0.048, 0.648], "range": [102, 391], "nice": false, "zero": false}, "axis": {"orient": "bottom", "offset": -69, "values": [0, 0.3, 0.6], "labelExpr": "replace(format(datum.value, '.1f'), '.', ',')", "title": "Potencial (V)", "titleX": 258}},
                "y": {"field": "i", "type": "quantitative", "scale": {"domain": [2.391, 4.485], "range": [364, 131], "nice": false, "zero": false}, "axis": {"orient": "left", "offset": -102, "values": [2.4, 3.2, 4.0], "labelExpr": "replace(format(datum.value, '.1f'), '.', ',')", "title": "Corrente\u00a0\u00a0\u00a0(µA)", "titleY": 259}},
                "color": {"field": "k", "type": "nominal", "scale": {"domain": [0,1,2,3,4,5,6,7,8,9,10], "range": ["#000000","#ff0000","#0000ff","#ff00ff","#008000","#000080","#8000ff","#800080","#800000","#808000","#3a72ad"]}, "legend": null}
              }
            },
            {
              "data": {"values": [{"rotulo": "ET1"}]},
              "mark": {"type": "text"},
              "encoding": {
                "x": {"datum": 0.012, "type": "quantitative", "title": "Potencial (V)"},
                "y": {"datum": 4.333, "type": "quantitative", "title": "Corrente\u00a0\u00a0\u00a0(µA)"},
                "text": {"field": "rotulo"}
              }
            }
          ]
        },
        {
          "layer": [
            {
              "data": {"name": "l2"},
              "mark": {"type": "line", "interpolate": "monotone", "strokeWidth": 2.5},
              "encoding": {
                "x": {"field": "v", "type": "quantitative", "scale": {"domain": [-0.054, 0.651], "range": [508, 797], "nice": false, "zero": false}, "axis": {"orient": "bottom", "offset": -69, "values": [0, 0.3, 0.6], "labelExpr": "replace(format(datum.value, '.1f'), '.', ',')", "title": "Potencial (V)", "titleX": 664}},
                "y": {"field": "i", "type": "quantitative", "scale": {"domain": [2.383, 6.377], "range": [364, 131], "nice": false, "zero": false}, "axis": {"orient": "left", "offset": -508, "values": [3, 4.5, 6], "labelExpr": "replace(format(datum.value, '.1f'), '.', ',')", "title": "Corrente\u00a0\u00a0\u00a0(µA)", "titleY": 253}},
                "color": {"field": "k", "type": "nominal", "scale": {"domain": [0,1,2,3,4,5,6,7,8,9,10], "range": ["#000000","#ff0000","#0000ff","#ff00ff","#008000","#000080","#8000ff","#800080","#800000","#808000","#3a72ad"]}, "legend": null}
              }
            },
            {
              "data": {"values": [{"rotulo": "ET1/CSS"}]},
              "mark": {"type": "text"},
              "encoding": {
                "x": {"datum": -0.046, "type": "quantitative", "title": "Potencial (V)"},
                "y": {"datum": 6.1, "type": "quantitative", "title": "Corrente\u00a0\u00a0\u00a0(µA)"},
                "text": {"field": "rotulo"}
              }
            }
          ]
        },
        {
          "layer": [
            {
              "data": {"name": "p3"},
              "mark": {"type": "point", "filled": true, "color": "#ff0000", "opacity": 1, "size": 90},
              "encoding": {
                "x": {"field": "x", "type": "quantitative", "scale": {"domain": [-0.95, 10.9], "range": [892, 1178], "nice": false, "zero": false}, "axis": {"orient": "bottom", "offset": -72, "values": [0, 2, 4, 6, 8, 10], "format": "d", "title": "Nonilfenol(µmol L⁻¹)"}},
                "y": {"field": "y", "type": "quantitative", "scale": {"domain": [-0.249, 2.249], "range": [361, 130], "nice": false, "zero": false}, "axis": {"orient": "left", "offset": -892, "values": [0, 1, 2], "format": "d", "title": "Corrente(µA)", "titleY": 257, "titleX": -42}},
                "shape": {"field": "s", "type": "nominal", "scale": {"domain": ["ET1", "ET1/CSS"], "range": ["circle", "M-1,-1H1V1H-1Z M-0.7,-0.6V0H0.7V-0.6Z"]}, "legend": {"orient": "none", "legendX": 912, "legendY": 132.5, "title": null, "padding": 0, "labelFont": "Liberation Serif", "labelFontSize": 15, "labelColor": "#222222", "labelOffset": 5, "rowPadding": 3, "symbolSize": 85, "symbolFillColor": "#ff0000", "symbolStrokeWidth": 0}}
              }
            },
            {
              "data": {"name": "p3"},
              "transform": [{"filter": "datum.s == 'ET1'"}],
              "mark": {"type": "point", "filled": true, "color": "#ffc4c4", "opacity": 0.85, "size": 10},
              "encoding": {
                "x": {"field": "x", "type": "quantitative", "title": "Nonilfenol(µmol L⁻¹)"},
                "y": {"field": "y", "type": "quantitative", "title": "Corrente(µA)"}
              }
            },
            {
              "data": {"name": "p3"},
              "transform": [{"filter": "isValid(datum.lo)"}],
              "mark": {"type": "errorbar", "color": "#f03c3c", "ticks": {"size": 7}, "rule": {"strokeWidth": 1.3}},
              "encoding": {
                "x": {"field": "x", "type": "quantitative", "title": "Nonilfenol(µmol L⁻¹)"},
                "y": {"field": "lo", "type": "quantitative", "title": "Corrente(µA)"},
                "y2": {"field": "hi"}
              }
            },
            {
              "data": {"name": "f3"},
              "mark": {"type": "line", "color": "#000000", "strokeWidth": 1.2},
              "encoding": {
                "x": {"field": "x", "type": "quantitative", "title": "Nonilfenol(µmol L⁻¹)"},
                "y": {"field": "y", "type": "quantitative", "title": "Corrente(µA)"}
              }
            }
          ]
        }
      ]
    },
    {
      "width": 1235, "height": 385,
      "view": {"stroke": "#0000ff", "strokeWidth": 3},
      "title": {"text": "Detecção eletroquímica da paroxetina", "fontSize": 33, "dx": 19, "dy": 53},
      "resolve": {"scale": {"x": "independent", "y": "independent", "color": "independent", "fill": "independent"}},
      "layer": [
        {
          "layer": [
            {
              "data": {"name": "l4"},
              "mark": {"type": "line", "interpolate": "monotone", "strokeWidth": 2.5},
              "encoding": {
                "x": {"field": "v", "type": "quantitative", "scale": {"domain": [0.3527, 1.0507], "range": [111, 400], "nice": false, "zero": false}, "axis": {"orient": "bottom", "offset": -72, "values": [0.5, 0.75, 1.0], "labelExpr": "replace(format(datum.value, '.2f'), '.', ',')", "title": "Potencial (V)", "titleX": 264}},
                "y": {"field": "i", "type": "quantitative", "scale": {"domain": [1.029, 11.057], "range": [313, 79], "nice": false, "zero": false}, "axis": {"orient": "left", "offset": -111, "values": [3, 6, 9], "format": "d", "title": "Corrente\u00a0\u00a0\u00a0(µA)", "titleY": 198, "titleX": -34}},
                "color": {"field": "k", "type": "nominal", "scale": {"domain": [0,1,2,3,4,5,6,7,8,9,10], "range": ["#000000","#ff0000","#0000ff","#ff00ff","#008000","#000080","#8000ff","#800080","#800000","#808000","#3a72ad"]}, "legend": null}
              }
            },
            {
              "data": {"values": [{"rotulo": "ET2"}]},
              "mark": {"type": "text"},
              "encoding": {
                "x": {"datum": 0.406, "type": "quantitative", "title": "Potencial (V)"},
                "y": {"datum": 9.686, "type": "quantitative", "title": "Corrente\u00a0\u00a0\u00a0(µA)"},
                "text": {"field": "rotulo"}
              }
            }
          ]
        },
        {
          "layer": [
            {
              "data": {"name": "l5"},
              "mark": {"type": "line", "interpolate": "monotone", "strokeWidth": 2.5},
              "encoding": {
                "x": {"field": "v", "type": "quantitative", "scale": {"domain": [0.353, 1.051], "range": [517, 806], "nice": false, "zero": false}, "axis": {"orient": "bottom", "offset": -68, "values": [0.5, 0.75, 1.0], "labelExpr": "replace(format(datum.value, '.2f'), '.', ',')", "title": "Potencial(V)"}},
                "y": {"field": "i", "type": "quantitative", "scale": {"domain": [0.986, 10.971], "range": [317, 84], "nice": false, "zero": false}, "axis": {"orient": "left", "offset": -517, "values": [3, 6, 9], "format": "d", "title": "Corrente (µA)", "titleY": 199}},
                "color": {"field": "k", "type": "nominal", "scale": {"domain": [0,1,2,3,4,5,6,7,8,9,10], "range": ["#000000","#ff0000","#0000ff","#ff00ff","#008000","#000080","#8000ff","#800080","#800000","#808000","#3a72ad"]}, "legend": null}
              }
            },
            {
              "data": {"values": [{"rotulo": "ET2/CSS"}]},
              "mark": {"type": "text"},
              "encoding": {
                "x": {"datum": 0.36, "type": "quantitative", "title": "Potencial(V)"},
                "y": {"datum": 10.03, "type": "quantitative", "title": "Corrente (µA)"},
                "text": {"field": "rotulo"}
              }
            }
          ]
        },
        {
          "layer": [
            {
              "data": {"name": "p6"},
              "mark": {"type": "point", "shape": "circle", "filled": true, "opacity": 1, "size": 90, "stroke": "#2a2aff", "strokeWidth": 1.4},
              "encoding": {
                "x": {"field": "x", "type": "quantitative", "scale": {"domain": [-0.995, 10.943], "range": [898, 1186], "nice": false, "zero": false}, "axis": {"orient": "bottom", "offset": -68, "values": [0, 4, 8], "format": "d", "title": "Paroxetina(µmol L⁻¹)", "titleX": 1045.7}},
                "y": {"field": "y", "type": "quantitative", "scale": {"domain": [-0.521, 4.994], "range": [317, 84], "nice": false, "zero": false}, "axis": {"orient": "left", "offset": -898, "values": [0, 2, 4], "format": "d", "title": "Corrente (µA)", "titleY": 208.7}},
                "fill": {"field": "s", "type": "nominal", "scale": {"domain": ["ET2", "ET2/CSS"], "range": ["#ffffff", "#1414f0"]}, "legend": {"orient": "none", "legendX": 911, "legendY": 90, "title": null, "padding": 0, "labelFont": "Liberation Serif", "labelFontSize": 15, "labelColor": "#222222", "labelOffset": 7, "rowPadding": 3, "symbolSize": 90, "symbolType": "circle", "symbolStrokeColor": "#2a2aff", "symbolStrokeWidth": 1.4}}
              }
            },
            {
              "data": {"name": "p6"},
              "transform": [{"filter": "datum.s == 'ET2/CSS'"}],
              "mark": {"type": "point", "filled": true, "color": "#c4c4ff", "opacity": 0.85, "size": 10},
              "encoding": {
                "x": {"field": "x", "type": "quantitative", "title": "Paroxetina(µmol L⁻¹)"},
                "y": {"field": "y", "type": "quantitative", "title": "Corrente (µA)"}
              }
            },
            {
              "data": {"name": "p6"},
              "transform": [{"filter": "isValid(datum.lo)"}],
              "mark": {"type": "errorbar", "ticks": {"size": 7}, "rule": {"strokeWidth": 1.3}},
              "encoding": {
                "x": {"field": "x", "type": "quantitative", "title": "Paroxetina(µmol L⁻¹)"},
                "y": {"field": "lo", "type": "quantitative", "title": "Corrente (µA)"},
                "y2": {"field": "hi"},
                "color": {"field": "s", "type": "nominal", "scale": {"domain": ["ET2", "ET2/CSS"], "range": ["#5a5aff", "#1a1ae6"]}, "legend": null}
              }
            },
            {
              "data": {"name": "f6"},
              "mark": {"type": "line", "color": "#000000", "strokeWidth": 1.2, "strokeDash": [6, 4]},
              "encoding": {
                "x": {"field": "x", "type": "quantitative", "title": "Paroxetina(µmol L⁻¹)"},
                "y": {"field": "y", "type": "quantitative", "title": "Corrente (µA)"}
              }
            }
          ]
        }
      ]
    }
  ],
  "spacing": 11,
  "bounds": "full"
}
